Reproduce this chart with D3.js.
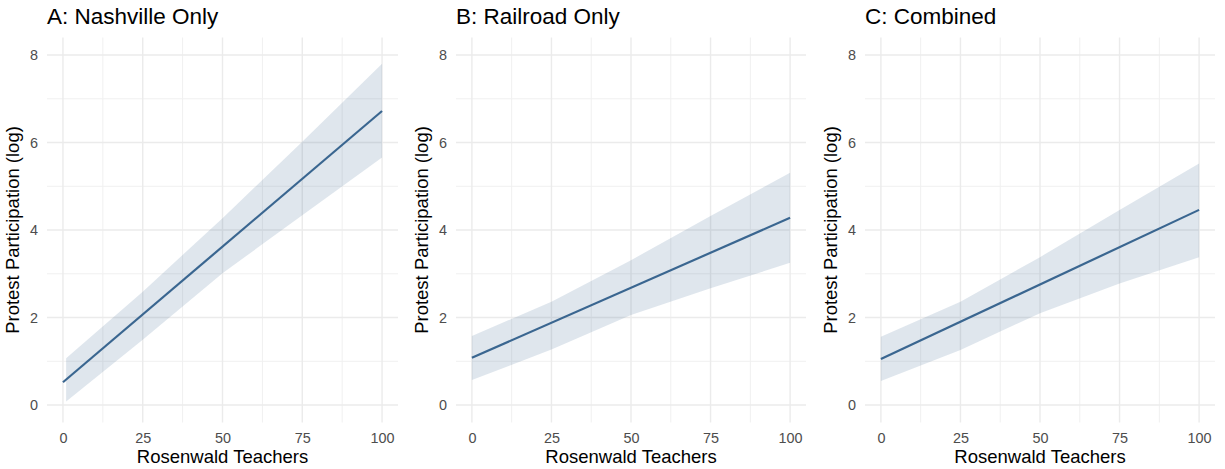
<!DOCTYPE html>
<html>
<head>
<meta charset="utf-8">
<script src="https://cdn.jsdelivr.net/npm/d3@7"></script>
<style>
  body { margin: 0; background: #fff; }
  text { font-family: "Liberation Sans", Arial, sans-serif; }
</style>
</head>
<body>
<script>
var width = 1225, height = 469;

// panel titles and fitted values
var panelTitles = ["A: Nashville Only", "B: Railroad Only", "C: Combined"];
var xTicks = [0, 25, 50, 75, 100];
var yTicks = [0, 2, 4, 6, 8];

var lineX = [0, 100];
var lineA = [0.52, 6.72];
var lineB = [1.08, 4.28];
var lineC = [1.05, 4.46];

var ribbonXA = [1, 25, 50, 75, 100];
var upperA = [1.07, 2.59, 4.27, 6.02, 7.8];
var lowerA = [0.08, 1.49, 3.01, 4.34, 5.66];

var ribbonXB = [0, 25, 50, 75, 100];
var upperB = [1.58, 2.36, 3.31, 4.32, 5.31];
var lowerB = [0.57, 1.27, 2.06, 2.67, 3.25];

var ribbonXC = [0, 25, 50, 75, 100];
var upperC = [1.56, 2.36, 3.38, 4.46, 5.52];
var lowerC = [0.55, 1.26, 2.10, 2.78, 3.38];

var panels = [
  {title: panelTitles[0], left: 47, right: 398, line: lineA, rx: ribbonXA, up: upperA, lo: lowerA},
  {title: panelTitles[1], left: 456, right: 806, line: lineB, rx: ribbonXB, up: upperB, lo: lowerB},
  {title: panelTitles[2], left: 865, right: 1215, line: lineC, rx: ribbonXC, up: upperC, lo: lowerC}
];

var svg = d3.select("body").append("svg")
  .attr("width", width)
  .attr("height", height);

var plotTop = 37.5, plotBottom = 422.5;
var lineColor = "#3a6690";

panels.forEach(function(p) {
  var x = d3.scaleLinear().domain([-5, 105]).range([p.left, p.right]),
    y = d3.scaleLinear().domain([-0.4, 8.4]).range([plotBottom, plotTop]),
    g = svg.append("g");

  // minor grid
  var xMinor = d3.range(12.5, 100, 25), yMinor = d3.range(1, 8, 2);
  g.selectAll(".xminor").data(xMinor).enter().append("line")
    .attr("x1", x).attr("x2", x).attr("y1", plotTop).attr("y2", plotBottom)
    .attr("stroke", "#f0f0f0").attr("stroke-width", 1);
  g.selectAll(".yminor").data(yMinor).enter().append("line")
    .attr("y1", y).attr("y2", y).attr("x1", p.left).attr("x2", p.right)
    .attr("stroke", "#f0f0f0").attr("stroke-width", 1);
  // major grid
  g.selectAll(".xmajor").data(xTicks).enter().append("line")
    .attr("x1", x).attr("x2", x).attr("y1", plotTop).attr("y2", plotBottom)
    .attr("stroke", "#ebebeb").attr("stroke-width", 1.4);
  g.selectAll(".ymajor").data(yTicks).enter().append("line")
    .attr("y1", y).attr("y2", y).attr("x1", p.left).attr("x2", p.right)
    .attr("stroke", "#ebebeb").attr("stroke-width", 1.4);

  // ribbon
  var ribbon = p.rx.map(function(v, i) { return {x: v, lo: p.lo[i], up: p.up[i]}; });
  g.append("path")
    .datum(ribbon)
    .attr("d", d3.area().x(function(d) { return x(d.x); })
      .y0(function(d) { return y(d.lo); }).y1(function(d) { return y(d.up); }))
    .attr("fill", "#3a6690").attr("fill-opacity", 0.16);

  // fitted line
  g.append("path")
    .datum(lineX.map(function(v, i) { return [v, p.line[i]]; }))
    .attr("d", d3.line().x(function(d) { return x(d[0]); }).y(function(d) { return y(d[1]); }))
    .attr("fill", "none").attr("stroke", lineColor).attr("stroke-width", 2.2);

  // axes (ticks only, no domain)
  var xAxis = g.append("g").attr("transform", "translate(0," + plotBottom + ")")
    .call(d3.axisBottom(x).tickValues(xTicks).tickSize(0).tickPadding(10));
  var yAxis = g.append("g").attr("transform", "translate(" + p.left + ",0)")
    .call(d3.axisLeft(y).tickValues(yTicks).tickSize(0).tickPadding(9));
  [xAxis, yAxis].forEach(function(a) {
    a.select(".domain").remove();
    a.selectAll("text").attr("fill", "#4d4d4d").style("font-size", "14.4px")
      .style("font-family", "Liberation Sans, Arial, sans-serif");
  });

  // axis titles
  g.append("text")
    .attr("x", (p.left + p.right) / 2).attr("y", 463)
    .attr("text-anchor", "middle").style("font-size", "18.5px").attr("fill", "#000")
    .text("Rosenwald Teachers");
  g.append("text")
    .attr("transform", "translate(" + (p.left - 28.5) + "," + ((plotTop + plotBottom) / 2) + ") rotate(-90)")
    .attr("text-anchor", "middle").style("font-size", "18.5px").attr("fill", "#000")
    .text("Protest Participation (log)");

  // panel title, aligned with the panel's left edge
  g.append("text")
    .attr("x", p.left).attr("y", 24)
    .style("font-size", "22.5px").attr("fill", "#000")
    .text(p.title);
});
</script>
</body>
</html>
